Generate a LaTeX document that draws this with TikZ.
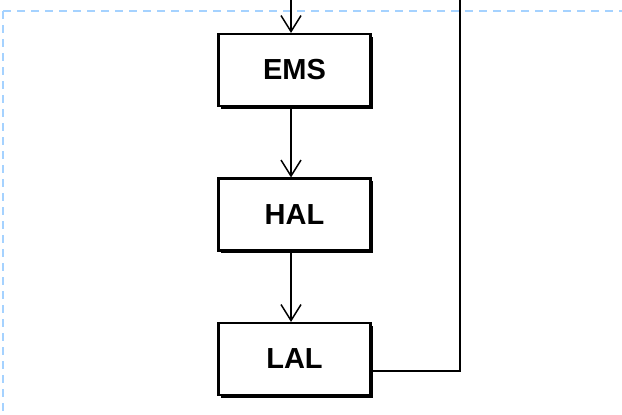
\documentclass[tikz,border=0pt]{standalone}
\usepackage{fontspec}
\setmainfont{Liberation Sans}
\usetikzlibrary{arrows.meta,shadows}
\tikzset{
  blk/.style={draw=black, line width=2.1pt, fill=white, minimum width=152pt, minimum height=72pt,
    font=\fontsize{29}{33}\selectfont\bfseries, inner sep=0pt,
    drop shadow={shadow xshift=2.5pt, shadow yshift=-2.5pt, fill=black, opacity=1}},
  conn/.style={line width=1.5pt, black},
  arr/.style={conn, -{Straight Barb[length=16pt, width=20pt, line width=1.5pt]}},
  frame/.style={draw={rgb,255:red,165;green,210;blue,255}, line width=2.6pt, dash pattern=on 8pt off 6pt}
}
\begin{document}
\begin{tikzpicture}[x=1pt,y=-1pt]
\useasboundingbox (0,0) rectangle (622,415);
\path[frame] (3,11) -- (640,11);
\path[frame] (3,11) -- (3,430);
\node[blk] (ems) at (294.5,70) {EMS};
\node[blk] (hal) at (294.5,214.5) {HAL};
\node[blk] (lal) at (294.5,359) {LAL};
\coordinate (top) at (291,-2);
\coordinate (topr) at (460,-2);
\coordinate (corner) at (460,371);
\draw[arr] (top) -- (top |- ems.north);
\draw[arr] (ems.south -| top) -- (hal.north -| top);
\draw[arr] (hal.south -| top) -- (lal.north -| top);
\draw[conn] (lal.east |- corner) -- (corner) -- (topr);
\end{tikzpicture}
\end{document}
